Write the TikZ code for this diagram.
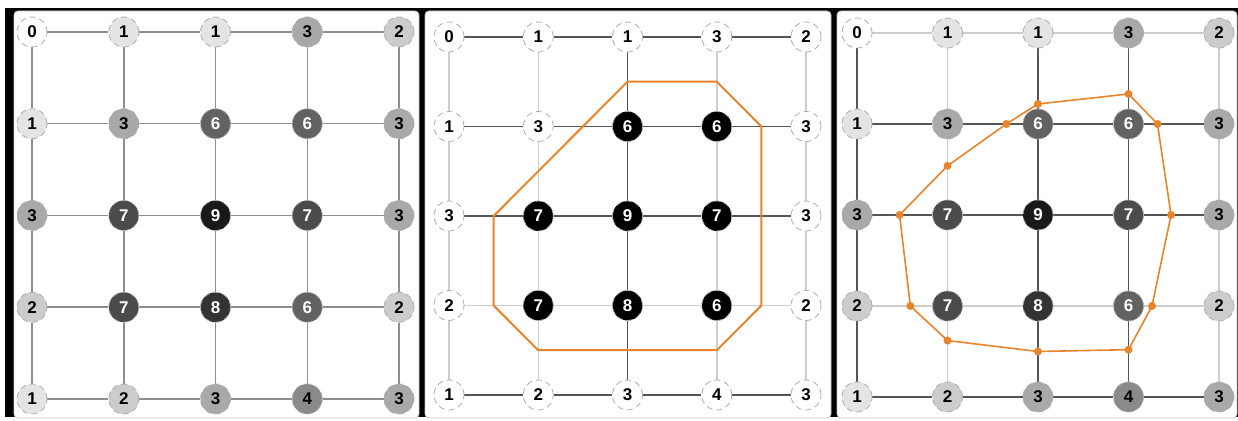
\documentclass[tikz,border=0pt]{standalone}
\usepackage{fontspec}
\setmainfont{Liberation Sans}
\usetikzlibrary{calc,backgrounds}

\definecolor{v0}{HTML}{FFFFFF}
\definecolor{v1}{HTML}{E4E4E4}
\definecolor{v2}{HTML}{CCCCCC}
\definecolor{v3}{HTML}{A9A9A9}
\definecolor{v4}{HTML}{8A8A8A}
\definecolor{v5}{HTML}{777777}
\definecolor{v6}{HTML}{626262}
\definecolor{v7}{HTML}{4B4B4B}
\definecolor{v8}{HTML}{333333}
\definecolor{v9}{HTML}{191919}
\definecolor{edk}{HTML}{555555}
\definecolor{emd}{HTML}{8E8E8E}
\definecolor{elt}{HTML}{CDCDCD}
\definecolor{contour}{HTML}{E8842C}

\begin{document}
\begin{tikzpicture}[x=0.5pt,y=-0.5pt,
  cell/.style={circle,draw=gray!65,densely dashed,line width=0.4pt,minimum size=15pt,inner sep=0pt,font=\fontsize{8.5}{10}\selectfont\bfseries},
  panel/.style={draw=gray!45,fill=white,rounded corners=2pt},
  link/.style={line width=0.75pt},
  iso/.style={draw=contour,line width=1pt,line join=round},
  dot/.style={circle,fill=contour,inner sep=0pt,minimum size=4pt}
]
\useasboundingbox (0,0) rectangle (1238,421);

% the same 5x5 grid in every panel
\foreach \p/\ox/\oy/\dx/\dy in {a/32/32/91.75/91.75,b/449/37/89.25/89.5,c/857/33/90.5/91}
  \foreach \vals [count=\r from 0] in {{0,1,1,3,2},{1,3,6,6,3},{3,7,9,7,3},{2,7,8,6,2},{1,2,3,4,3}}
    \foreach \v [count=\c from 0] in \vals {
      \ifnum\v>5 \def\ink{white}\def\hot{black}\else\def\ink{black}\def\hot{white}\fi
      \if b\p \def\bg{\hot}\else\def\bg{v\v}\fi
      \node[cell,fill=\bg,text=\ink] (\p-\r-\c) at ({\ox+\c*\dx},{\oy+\r*\dy}) {\v};
    }

% frame, panels and grid lines behind the nodes
\begin{scope}[on background layer]
  \fill[black] (5,8) rectangle (1238,417);
  \draw[panel] (14,11) rectangle (419,418);
  \draw[panel] (425,11) rectangle (831,418);
  \draw[panel] (837,11) rectangle (1237,418);
  \foreach \p/\hs/\vs in {a/{emd,emd,emd,emd,emd}/{emd,emd,emd,emd,emd},
                          b/{edk,edk,edk,elt,edk}/{elt,elt,edk,elt,elt},
                          c/{elt,edk,edk,elt,edk}/{edk,elt,edk,edk,elt}} {
    \foreach \col [count=\r from 0] in \hs
      \foreach \c [count=\n] in {0,...,3}
        \draw[link,\col] (\p-\r-\c) -- (\p-\r-\n);
    \foreach \col [count=\c from 0] in \vs
      \foreach \r [count=\n] in {0,...,3}
        \draw[link,\col] (\p-\r-\c) -- (\p-\n-\c);
  }
\end{scope}

% middle panel: cut at the half-way points
\draw[iso] ($(b-0-2)!.5!(b-1-2)$) -- ($(b-0-3)!.5!(b-1-3)$) -- ($(b-1-3)!.5!(b-1-4)$)
  -- ($(b-3-3)!.5!(b-3-4)$) -- ($(b-3-3)!.5!(b-4-3)$) -- ($(b-3-1)!.5!(b-4-1)$)
  -- ($(b-3-0)!.5!(b-3-1)$) -- ($(b-2-0)!.5!(b-2-1)$) -- cycle;

% right panel: interpolated crossings
\foreach \ea/\eb/\fr [count=\k] in {c-0-2/c-1-2/.78,c-0-3/c-1-3/.67,c-1-3/c-1-4/.32,
    c-2-3/c-2-4/.47,c-3-3/c-3-4/.26,c-3-3/c-4-3/.48,c-3-2/c-4-2/.5,c-3-1/c-4-1/.38,
    c-3-0/c-3-1/.59,c-2-0/c-2-1/.47,c-1-1/c-2-1/.46,c-1-1/c-1-2/.65}
  \coordinate (k\k) at ($(\ea)!\fr!(\eb)$);
\draw[iso,line width=0.8pt] (k1) \foreach \k in {2,...,12} { -- (k\k) } -- cycle;
\foreach \k in {1,...,12}
  \node[dot] (d\k) at (k\k) {};
\end{tikzpicture}
\end{document}
